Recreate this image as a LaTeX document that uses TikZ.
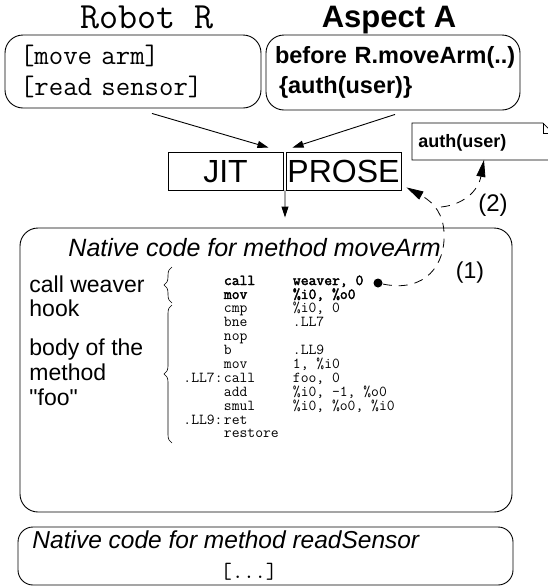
\documentclass[tikz,border=0pt]{standalone}
\usepackage{fontspec}
\setmainfont{Liberation Sans}
\setmonofont{Latin Modern Mono}[AutoFakeBold=2.5]
\usetikzlibrary{arrows.meta,decorations.pathreplacing}

\newcommand{\asm}[3]{\makebox[40.5pt][l]{#1}\makebox[69pt][l]{#2}#3}

\begin{document}
\begin{tikzpicture}[x=1pt,y=-1pt,line width=0.9pt,
  roundbox/.style={draw,rounded corners=18pt},
  sqbox/.style={draw,minimum width=115pt,minimum height=38pt,text height=23pt,text depth=0pt,inner sep=0pt,font=\fontsize{32}{38}\selectfont},
  arr/.style={-{Triangle[length=11pt,width=7pt]}},
  hookarr/.style={dash pattern=on 9pt off 7pt,line width=0.8pt,-{Triangle[length=17pt,width=9pt]}},
  sans/.style={font=\fontsize{23}{25}\selectfont}
]
\useasboundingbox (0,0) rectangle (547,587);

\node[anchor=base,font=\ttfamily\fontsize{37}{42}\selectfont] (robottitle) at (147,28) {Robot R};
\node[anchor=base,font=\bfseries\fontsize{31}{37}\selectfont] (aspecttitle) at (389,27) {Aspect A};

\node[roundbox,minimum width=256pt,minimum height=73pt,text width=226pt,align=left,
  font=\ttfamily\fontsize{28}{31}\selectfont] (robot) at (133,71.5) {[move arm]\\{}[read sensor]};
\node[roundbox,minimum width=254pt,minimum height=75pt,text width=236pt,align=left,
  font=\bfseries\fontsize{23.5}{30}\selectfont] (aspect) at (393,72.5) {\mbox{before R.moveArm(..)}\\\hspace*{4pt}\{auth(user)\}};

\node[sqbox] (jit) at (225.5,171) {JIT};
\node[sqbox] (prose) at (343.5,171) {PROSE};

\draw[arr] ([xshift=19pt,yshift=-5pt]robot.south) -- ([xshift=-15pt,yshift=4pt]jit.north east);
\draw[arr] ([xshift=2pt,yshift=-4pt]aspect.south) -- ([xshift=7pt,yshift=4pt]prose.north west);

\node[anchor=north west,minimum width=140pt,minimum height=36pt,text width=128pt,inner xsep=6pt,inner ysep=0pt,
  align=left,text height=13pt,text depth=0pt,font=\bfseries\fontsize{18}{22}\selectfont] (auth) at (412,123) {auth(user)};
\draw[line width=0.8pt] (auth.south west) |- ([xshift=-10pt]auth.north east) -- ([yshift=-10pt]auth.north east)
  -- (auth.south east) -- cycle;
\draw[line width=0.8pt] ([xshift=-10pt]auth.north east) |- ([yshift=-10pt]auth.north east);

\node[roundbox,minimum width=492pt,minimum height=284pt] (native) at (266,370) {};
\draw[arr] ([xshift=1.5pt]jit.south east) -- ([xshift=19pt,yshift=10pt]native.north);

\node[anchor=base west,inner sep=0pt,font=\itshape\fontsize{25}{30}\selectfont] (movetitle) at (68,256) {Native code for method moveArm};

\node[anchor=base west,inner sep=0pt,align=left,font=\fontsize{23}{24}\selectfont] (hooklbl) at (29,316) {call weaver\\hook};
\node[anchor=base west,inner sep=0pt,align=left,sans] (bodylbl) at (29,405) {body of the\\method\\\textquotedbl foo\textquotedbl};

\draw[line width=0.6pt,decorate,decoration={brace,amplitude=8pt}] (172,303) -- (172,267);
\draw[line width=0.6pt,decorate,decoration={brace,amplitude=8pt}] (172,443) -- (172,305);

\node[anchor=base west,inner sep=0pt,align=left,font=\ttfamily\fontsize{15.2}{13.9}\selectfont] (code) at (183,437.9) {%
\asm{}{\textbf{call}}{\textbf{weaver, 0}}\\
\asm{}{\textbf{mov}}{\textbf{\%i0, \%o0}}\\
\asm{}{cmp}{\%i0, 0}\\
\asm{}{bne}{.LL7}\\
\asm{}{nop}{}\\
\asm{}{b}{.LL9}\\
\asm{}{mov}{1, \%i0}\\
\asm{.LL7:}{call}{foo, 0}\\
\asm{}{add}{\%i0, -1, \%o0}\\
\asm{}{smul}{\%i0, \%o0, \%i0}\\
\asm{.LL9:}{ret}{}\\
\asm{}{restore}{}};

\node[circle,fill,inner sep=0pt,minimum size=9pt] (hookpt) at (378,283) {};
\coordinate (fork) at (441,207);
\draw[hookarr] (hookpt) .. controls (425,293) and (446,265) .. (444,232)
  .. controls (443,215) and (435,203) .. ([xshift=5pt,yshift=3pt]prose.south east);
\draw[hookarr] (fork) .. controls (462,205) and (478,192) .. ([xshift=72pt]auth.south west);

\node[sans] (one) at (470,273) {(1)};
\node[font=\fontsize{24}{28}\selectfont] (two) at (493,205) {(2)};

\node[roundbox,rounded corners=15pt,minimum width=495pt,minimum height=58pt] (rsensor) at (265.5,556) {};
\node[anchor=base west,inner sep=0pt,font=\itshape\fontsize{24.5}{29}\selectfont] (readtitle) at (32,548) {Native code for method readSensor};
\node[anchor=base,inner sep=0pt,font=\ttfamily\fontsize{22}{26}\selectfont] (dots) at (249,578) {[...]};
\end{tikzpicture}
\end{document}
